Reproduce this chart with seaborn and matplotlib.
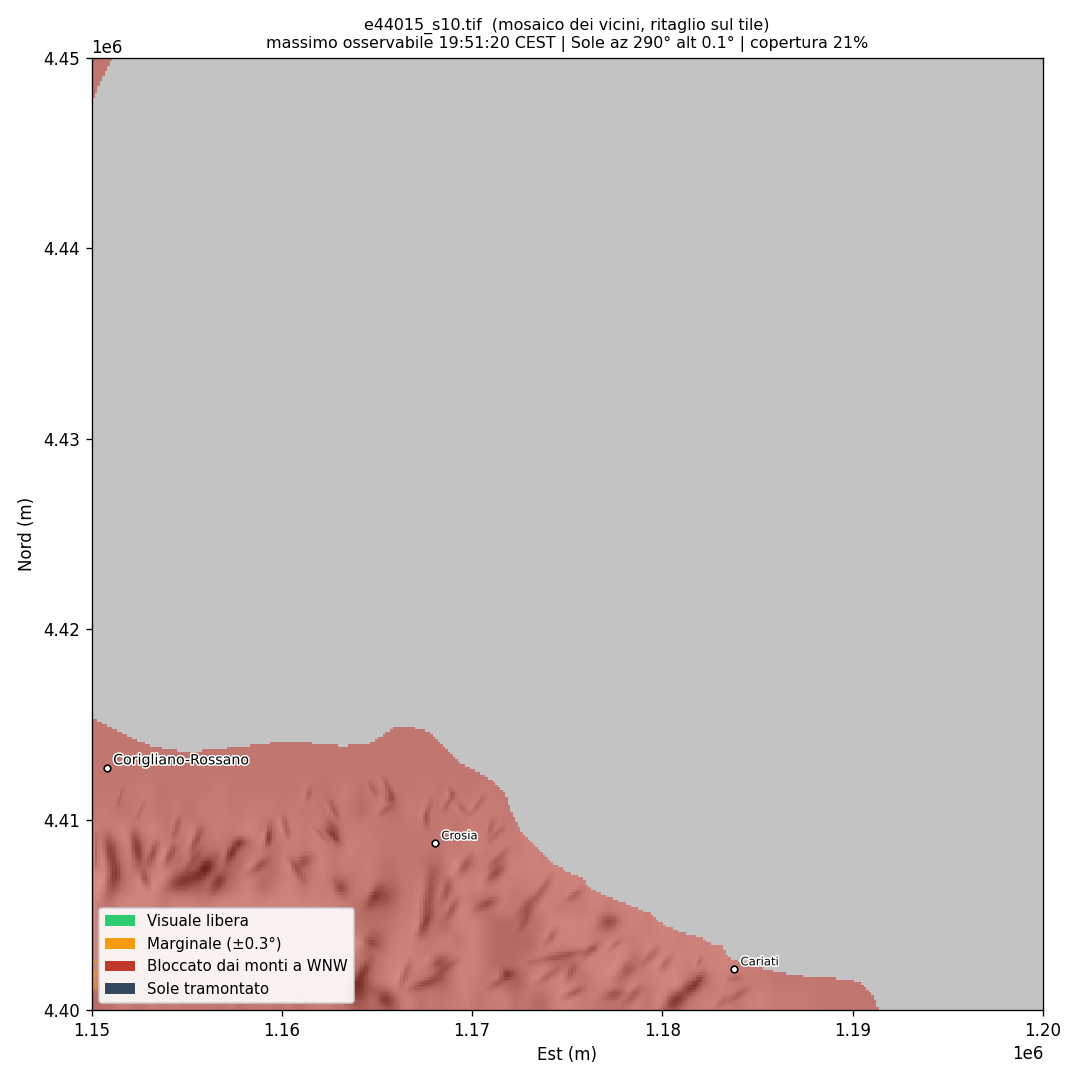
import numpy as np
import matplotlib
matplotlib.use("Agg")
import matplotlib.pyplot as plt
import matplotlib.patheffects as pe
from matplotlib.patches import Patch, Polygon
from matplotlib.path import Path
import pandas as pd
import seaborn as sns

# coast of the blocked area (m)
coast_e = [1150000, 1150789, 1151998, 1153049, 1154101, 1155152, 1156730, 1157781, 1159359, 1160305,
           1161462, 1163039, 1164458, 1164879, 1165405, 1165931, 1166456, 1167245, 1167771, 1168296,
           1168822, 1169348, 1169874, 1170768, 1171609, 1171871, 1172134, 1172503, 1173396, 1174238,
           1174974, 1175815, 1176078, 1177234, 1178181, 1178812, 1179337, 1180021, 1181072, 1181966,
           1182334, 1183175, 1183281, 1183701, 1185121, 1186698, 1188275, 1189485, 1190221, 1190746,
           1191166, 1191271]
coast_n = [4415283, 4414968, 4414338, 4413865, 4413655, 4413550, 4413708, 4413813, 4414023, 4414128,
           4414023, 4413865, 4413918, 4414128, 4414548, 4414863, 4414916, 4414758, 4414548, 4414023,
           4413445, 4412973, 4412710, 4412237, 4411554, 4410872, 4410136, 4409454, 4408561, 4407720,
           4407248, 4406933, 4406460, 4405882, 4405515, 4405252, 4405094, 4404464, 4404044, 4403834,
           4403519, 4403361, 4402889, 4402626, 4402206, 4401838, 4401681, 4401628, 4401471, 4401050,
           4400525, 4400000]

# bit of land in the top left corner
corner_e = [1150000, 1151052, 1150841, 1150578, 1150421, 1150263, 1150105, 1150000]
corner_n = [4450000, 4450000, 4449579, 4449106, 4448739, 4448318, 4447951, 4447688]

# marginal spots near the west edge: west, east, south, north
marg_w = [1150053, 1150053, 1150053, 1150263]
marg_e = [1150263, 1150316, 1150263, 1150526]
marg_s = [4402468, 4401680, 4401050, 4403045]
marg_n = [4402625, 4402100, 4401575, 4403833]

# towns
town_names = ["Corigliano-Rossano", "Crosia", "Cariati"]
town_e = [1150789, 1168034, 1183754]
town_n = [4412710, 4408771, 4402153]
town_sizes = [8.5, 7, 7]

# hillshade read by eye: 0 dark .. 9 bright, 0.5 km columns, 1 km rows, north on top
shade_levels = [110, 130, 150, 165, 180, 196, 212, 228, 240, 250]
shade_rows = [
    "5555555555 5555555555 5555555555 5555555555 5555555555 5555555555 5555555555 5555555555 55",
    "5555555555 5555555555 5555555555 5555555555 5555555555 5555555555 5555555555 5555555555 55",
    "5555555555 5555555555 5555555555 5555555555 5555555555 5555555555 5555555555 5555555555 55",
    "5555555555 5555555555 5555555555 5555555555 5555555555 5555555555 5555555555 5555555555 55",
    "5555565455 5556555555 5565456545 5555564655 5655555555 5555555555 5555555555 5555555555 55",
    "5645565465 4656556565 5646456436 5356564656 6565565555 5555555555 5555555555 5555555555 55",
    "6567467546 6466567636 6656436565 5555555646 6565667666 6666666666 5555555555 5555555555 55",
    "7336236754 6364334654 6647646756 5555554756 7566567567 6666666666 6666666666 5555555555 55",
    "7427336743 3125237634 7336747466 4455533774 6436767676 7676767676 6666666666 5555555555 55",
    "7734767742 2122367336 7637532656 3365554376 7647566576 7677676666 7666666666 5555555555 55",
    "7377777376 7567777677 7767675433 3365554476 3376446765 6577576766 7676666666 6555555555 55",
    "7777777777 7777777777 7777676544 4566553376 7433344577 7673376757 7676777666 6555555555 55",
    "7777777777 7777777777 7777777763 3676556746 7343334676 7756775676 7667676766 6555555555 55",
    "7777777777 7777777777 7777777634 5767573376 7433446743 3677677376 7767677666 6555555555 55",
    "7377477777 7777777777 7777775225 6775532376 6373147667 6467657757 7743376565 6555555555 55",
    "3547457374 6473736473 7365737322 3267364657 4657363367 7564536737 3365757466 7565655555 55",
]
shade = np.array([[shade_levels[int(c)] for c in row.replace(" ", "")] for row in shade_rows])

# shaded gullies read by eye: km from the tile's south west corner, width in px, strength 0..1
gully_e0 = [0.8, 2.2, 1.3, 3.9, 5.7, 6.9, 7.3, 7.1, 4.6, 5.7, 3.4, 4.3, 8.3, 9.4, 2.7, 0.2, 1.6, 2.7,
            10.1, 10.8, 12.5, 12.4, 15.5, 15.1, 12.9, 14.5, 14.8, 14.1, 16.7, 15.1, 17.9, 18.5, 19.9, 19.2,
            17.6, 18.8, 19.2, 20.8, 20.2, 22.5, 21.5, 23.0, 27.8, 26.7, 25.0, 26.9, 24.8, 23.9, 20.9,
            31.1, 30.2, 33.5, 32.0, 33.4,
            11.5, 12.5, 15.3, 14.6, 17.8, 19.0, 20.6, 9.4, 7.8, 5.7, 12.1, 10.4, 15.1, 21.1, 21.8, 24.1,
            23.0, 18.8, 17.8, 14.6, 16.7, 19.2, 21.8, 24.4, 25.3, 28.8, 29.7, 32.1, 26.6, 27.8, 30.4, 33.4]
gully_n0 = [9.1, 9.3, 7.4, 6.5, 7.2, 7.2, 8.8, 8.0, 10.1, 9.5, 8.8, 8.6, 7.2, 9.3, 7.2, 9.3, 11.6, 10.9,
            10.1, 7.7, 9.8, 8.9, 11.4, 10.3, 6.7, 5.8, 3.8, 1.7, 1.1, 0.9, 7.2, 2.6, 8.0, 5.8,
            10.3, 11.6, 10.9, 6.8, 5.4, 4.9, 1.9, 2.5, 1.7, 4.6, 5.8, 0.7, 0.7, 3.5, 8.9,
            0.9, 0.1, 0.5, 2.8, 1.6,
            11.7, 11.0, 12.2, 11.9, 11.0, 11.4, 11.2, 9.8, 8.9, 8.4, 9.6, 8.0, 6.5, 10.0, 8.4, 7.0,
            5.1, 6.8, 5.1, 2.6, 2.5, 2.6, 1.7, 2.1, 2.3, 1.2, 3.2, 1.9, 3.5, 3.7, 2.8, 0.7]
gully_e1 = [1.2, 2.5, 0.9, 5.7, 6.4, 6.4, 8.1, 7.4, 4.3, 5.2, 3.0, 3.9, 9.2, 9.2, 2.9, 0.2, 1.3, 2.4,
            10.3, 11.5, 12.9, 11.8, 15.8, 15.7, 13.2, 15.7, 14.5, 13.7, 18.3, 15.7, 17.4, 17.8, 19.3, 18.7,
            17.6, 19.0, 19.7, 21.6, 21.3, 23.4, 22.1, 26.3, 28.4, 27.6, 25.7, 27.8, 25.7, 24.4, 21.6,
            31.8, 31.1, 34.4, 31.8, 34.1,
            11.3, 12.9, 15.8, 15.0, 17.4, 18.5, 19.9, 9.2, 7.1, 5.0, 12.9, 11.1, 14.5, 20.8, 20.9, 23.4,
            22.5, 18.5, 17.2, 13.9, 16.2, 18.1, 20.9, 23.4, 25.0, 28.1, 29.0, 31.6, 25.8, 27.2, 29.9, 32.9]
gully_n1 = [7.2, 7.7, 6.1, 7.2, 7.9, 6.3, 8.8, 8.6, 9.1, 8.2, 7.7, 7.7, 7.9, 8.6, 6.5, 7.5, 10.7, 10.1,
            9.1, 8.0, 8.8, 9.5, 10.9, 10.7, 6.1, 6.1, 3.3, 0.5, 1.7, 0.2, 4.0, 2.3, 7.2, 4.9,
            9.6, 11.2, 10.3, 7.6, 5.8, 6.1, 1.9, 3.2, 2.5, 4.7, 6.3, 0.9, 1.1, 4.2, 9.6,
            1.5, 0.9, 1.1, 2.3, 1.7,
            11.0, 10.1, 11.2, 11.2, 9.8, 10.5, 10.3, 8.8, 7.7, 7.4, 8.9, 6.8, 5.4, 9.1, 7.5, 5.9,
            4.2, 5.8, 4.0, 1.4, 1.2, 1.9, 1.2, 1.4, 1.6, 0.4, 2.5, 1.2, 2.8, 3.2, 2.1, 0.2]
gully_w = [6, 5, 7, 9, 8, 6, 5, 4, 3, 4, 4, 4, 5, 4, 4, 3, 2, 2,
           3, 6, 5, 3, 5, 3, 6, 10, 8, 12, 5, 8, 6, 6, 5, 4,
           3, 3, 3, 5, 5, 6, 5, 4, 8, 7, 4, 5, 4, 4, 3,
           7, 8, 4, 2, 3,
           3, 3, 3, 3, 3, 3, 3, 3, 4, 4, 3, 4, 5, 3, 4, 4,
           4, 4, 4, 5, 4, 4, 4, 4, 4, 5, 4, 4, 4, 3, 4, 4]
gully_s = [.8, .8, .8, 1, 1, .8, .7, .7, .5, .7, .7, .7, .7, .6, .7, .6, .35, .35,
           .6, .6, .7, .5, .6, .5, .6, .6, .7, .95, .8, .8, .7, .7, .6, .6,
           .4, .4, .4, .7, .65, .6, .85, .7, .7, .65, .55, .7, .7, .55, .4,
           .85, .95, .5, .4, .4,
           .4, .5, .45, .4, .45, .45, .4, .5, .6, .6, .5, .5, .5, .4, .5, .45,
           .45, .5, .5, .6, .5, .5, .55, .5, .5, .6, .5, .45, .5, .45, .5, .45]

legend_labels = ["Visuale libera", "Marginale (±0.3°)", "Bloccato dai monti a WNW", "Sole tramontato"]
legend_colors = ["#2ecc71", "#f39c12", "#c0392b", "#34495e"]

sns.set_style("ticks", rc={"axes.edgecolor": "black", "text.color": "black", "axes.labelcolor": "black",
                           "xtick.color": "black", "ytick.color": "black"})
plt.rcParams["font.family"] = ["DejaVu Sans"]

fig = plt.figure(figsize=(9, 9), dpi=120)
ax = fig.add_axes([91.5 / 1080, 70 / 1080, 951.5 / 1080, 952 / 1080])

# raster of about 130 m, like the tile
cell = 50000 / 380
east = 1150000 + (np.arange(380) + 0.5) * cell
north = 4450000 - (np.arange(380) + 0.5) * cell
ee, nn = np.meshgrid(east, north)

# broad relief from the hand read grid, softened
gray = np.full(ee.shape, 196.0)
inside = (ee < 1191000) & (nn < 4416000)
gray[inside] = shade[((4416000 - nn[inside]) // 1000).astype(int), ((ee[inside] - 1150000) // 500).astype(int)]
kernel = np.exp(-0.5 * (np.arange(-6, 7) / 2.4) ** 2)
kernel /= kernel.sum()
pad = np.pad(gray, 6, mode="edge")
pad = np.apply_along_axis(lambda v: np.convolve(v, kernel, mode="same"), 0, pad)
pad = np.apply_along_axis(lambda v: np.convolve(v, kernel, mode="same"), 1, pad)
gray = pad[6:-6, 6:-6]


def stamp(e0, n0, e1, n1, sigma, amount):
    # soft tapered stroke from one end of a gully to the other
    dx, dy = e1 - e0, n1 - n0
    t = np.clip(((ee - e0) * dx + (nn - n0) * dy) / (dx ** 2 + dy ** 2), 0, 1)
    dist2 = (ee - e0 - t * dx) ** 2 + (nn - n0 - t * dy) ** 2
    return amount * np.exp(-dist2 / (2 * sigma ** 2)) * (0.45 + 0.55 * np.sin(np.pi * t))


for e0, n0, e1, n1, w, s in zip(gully_e0, gully_n0, gully_e1, gully_n1, gully_w, gully_s):
    e0, e1 = 1150000 + e0 * 1000, 1150000 + e1 * 1000
    n0, n1 = 4400000 + n0 * 1000, 4400000 + n1 * 1000
    sigma = w * 52.6 * 0.7
    gray -= stamp(e0, n0, e1, n1, sigma, 120 * s)
    gray += stamp(e0 - w * 85, n0, e1 - w * 85, n1, sigma, 35 * s)
gray = np.clip(gray, 10, 250)

# blocked mask on the same raster
points = np.column_stack([ee.ravel(), nn.ravel()])
coast_path = Path(list(zip(coast_e, coast_n)) + [(1150000, 4400000)])
corner_path = Path(list(zip(corner_e, corner_n)))
land = (coast_path.contains_points(points) | corner_path.contains_points(points)).reshape(ee.shape)
gray[~land] = 196

extent = (1150000, 1200000, 4400000, 4450000)
ax.imshow(gray, cmap="gray", vmin=0, vmax=255, extent=extent, interpolation="nearest", aspect="auto", zorder=1)
overlay = np.zeros(ee.shape + (4,))
overlay[land] = matplotlib.colors.to_rgba("#c0392b", 0.55)
ax.imshow(overlay, extent=extent, interpolation="nearest", aspect="auto", zorder=2)

for w, e, s, n in zip(marg_w, marg_e, marg_s, marg_n):
    ax.add_patch(Polygon([(w, s), (e, s), (e, n), (w, n)], closed=True, facecolor="#f39c12", alpha=0.45,
                         edgecolor="none", zorder=3))

towns = pd.DataFrame({"e": town_e, "n": town_n})
sns.scatterplot(data=towns, x="e", y="n", s=16, color="white", edgecolor="black", linewidth=1,
                zorder=5, ax=ax)
for name, e, n, size in zip(town_names, town_e, town_n, town_sizes):
    ax.annotate(name, (e, n), xytext=(4, 2.2), textcoords="offset points", fontsize=size, zorder=6,
                path_effects=[pe.withStroke(linewidth=1.8, foreground="white")])

ax.set_xlim(1150000, 1200000)
ax.set_ylim(4400000, 4450000)
ax.set_xticks([1150000, 1160000, 1170000, 1180000, 1190000, 1200000])
ax.set_yticks([4400000, 4410000, 4420000, 4430000, 4440000, 4450000])
ax.set_xlabel("Est (m)", fontsize=10)
ax.set_ylabel("Nord (m)", fontsize=10)
ax.tick_params(labelsize=10)
ax.set_title("e44015_s10.tif  (mosaico dei vicini, ritaglio sul tile)\n"
             "massimo osservabile 19:51:20 CEST | Sole az 290° alt 0.1° | copertura 21%", fontsize=9.5)

handles = [Patch(facecolor=c, edgecolor="none", label=l) for c, l in zip(legend_colors, legend_labels)]
ax.legend(handles=handles, loc="lower left", fontsize=9, framealpha=0.9)

fig.savefig("out.png", dpi=120)
